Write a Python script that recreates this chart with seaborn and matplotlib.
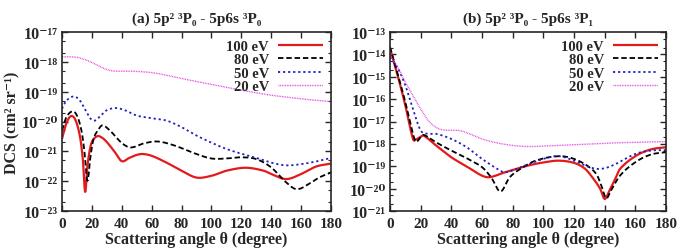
import matplotlib
matplotlib.use("Agg")
import matplotlib.pyplot as plt
import matplotlib.ticker as mticker
import numpy as np
import pandas as pd
import seaborn as sns

energies = ["100 eV", "80 eV", "50 eV", "20 eV"]
colors = ["#e31a1c", "black", "#1f1fbf", "#e040e0"]
dashes = [(1, 0), (3, 1.6), (1.2, 1.6), (0.6, 0.6)]
widths = [1.6, 1.3, 1.3, 1.0]

# panel (a): 5p2 3P0 - 5p6s 3P0, log10(DCS)
a_100_x = [0, 3, 6, 9, 12, 14, 15.5, 17, 19, 21, 24, 27, 30, 35, 40, 45, 50, 54, 60, 70, 80, 90,
           100, 110, 123, 135, 140, 150, 160, 170, 180]
a_100_y = [-20.58, -20.05, -19.82, -19.95, -20.5, -21.3, -22.36, -21.5, -20.85, -20.6, -20.49, -20.55,
           -20.69, -21.0, -21.33, -21.22, -21.12, -21.09, -21.15, -21.38, -21.65, -21.88,
           -21.82, -21.65, -21.55, -21.65, -21.76, -21.93, -21.76, -21.51, -21.41]
a_80_x = [0, 3, 7, 10, 13, 15, 17, 19, 21, 24, 27, 32, 40, 46, 55, 64, 75, 90, 100, 110, 120,
          130, 140, 150, 157, 165, 172, 180]
a_80_y = [-20.30, -19.85, -19.66, -19.8, -20.3, -21.0, -21.99, -21.2, -20.6, -20.3, -20.13, -20.3,
          -20.72, -20.87, -20.73, -20.67, -20.8, -21.09, -21.24, -21.24, -21.2, -21.26, -21.54,
          -22.04, -22.27, -22.1, -21.88, -21.71]
a_50_x = [0, 3, 8, 12, 16, 19, 22, 26, 30, 36, 42, 50, 60, 70, 80, 90, 100, 110, 120, 130, 140,
          150, 160, 170, 180]
a_50_y = [-19.57, -19.3, -19.16, -19.3, -19.65, -19.9, -19.97, -19.8, -19.62, -19.55, -19.62, -19.8,
          -19.89, -19.97, -20.19, -20.47, -20.71, -20.92, -21.08, -21.22, -21.38, -21.47, -21.43,
          -21.34, -21.22]
a_20_x = [0, 5, 10, 15, 20, 25, 30, 35, 45, 60, 70, 80, 90, 100, 110, 120, 130, 140, 150, 160,
          170, 180]
a_20_y = [-17.83, -17.83, -17.85, -17.92, -18.02, -18.15, -18.26, -18.31, -18.31, -18.36, -18.45,
          -18.56, -18.66, -18.76, -18.86, -18.95, -19.04, -19.12, -19.18, -19.24, -19.29, -19.33]

# panel (b): 5p2 3P0 - 5p6s 3P1, log10(DCS)
b_100_x = [0, 5, 10, 15, 17, 20, 22, 30, 40, 50, 60, 65, 75, 90, 100, 110, 120, 127, 132, 137,
           140, 143, 147, 150, 160, 170, 180]
b_100_y = [-13.72, -14.94, -16.28, -17.78, -17.8, -17.68, -17.63, -18.07, -18.6, -19.01, -19.42,
           -19.49, -19.27, -18.97, -18.83, -18.75, -18.85, -19.1, -19.5, -20.0, -20.46, -20.1,
           -19.55, -19.12, -18.55, -18.25, -18.15]
b_80_x = [0, 5, 10, 15, 17, 20, 22, 30, 40, 50, 60, 66, 72, 78, 85, 95, 110, 120, 130, 135, 138,
          141, 144, 150, 160, 170, 180]
b_80_y = [-13.67, -14.87, -16.14, -17.56, -17.9, -17.7, -17.6, -17.93, -18.3, -18.64, -19.04,
          -19.5, -20.13, -19.5, -19.12, -18.75, -18.55, -18.67, -19.04, -19.4, -19.9, -20.43,
          -20.1, -19.42, -18.82, -18.48, -18.37]
b_50_x = [0, 5, 10, 15, 20, 25, 30, 40, 50, 60, 70, 75, 85, 100, 110, 120, 130, 137, 145, 160,
          170, 180]
b_50_y = [-14.12, -14.6, -15.39, -16.44, -17.40, -17.55, -17.55, -17.78, -18.15, -18.67, -19.12,
          -19.27, -19.05, -18.67, -18.55, -18.75, -19.04, -19.12, -18.97, -18.45, -18.3, -18.28]
b_20_x = [0, 5, 10, 15, 20, 25, 30, 35, 45, 50, 60, 70, 80, 90, 100, 120, 140, 160, 180]
b_20_y = [-14.04, -14.57, -15.24, -15.84, -16.44, -16.96, -17.26, -17.38, -17.40, -17.5, -17.78,
          -17.96, -18.07, -18.12, -18.1, -18.04, -17.97, -17.93, -17.90]

a_decades = list(range(-23, -16))
b_decades = list(range(-21, -12))

SUP = str.maketrans("-0123456789", "\u207b\u2070\u00b9\u00b2\u00b3\u2074\u2075\u2076\u2077\u2078\u2079")


def smooth(xs, ys):
    # Catmull-Rom spline through the read points, on log scale
    xs = np.asarray(xs, float)
    ys = np.asarray(ys, float)
    xf = np.linspace(xs[0], xs[-1], 721)
    out = []
    for x in xf:
        i = min(np.searchsorted(xs, x, side="right") - 1, len(xs) - 2)
        i0, i1, i2, i3 = max(i - 1, 0), i, i + 1, min(i + 2, len(xs) - 1)
        h = xs[i2] - xs[i1]
        t = (x - xs[i1]) / h
        m1 = (ys[i2] - ys[i0]) / (xs[i2] - xs[i0]) * h
        m2 = (ys[i3] - ys[i1]) / (xs[i3] - xs[i1]) * h
        t2, t3 = t * t, t * t * t
        out.append((2 * t3 - 3 * t2 + 1) * ys[i1] + (t3 - 2 * t2 + t) * m1
                   + (-2 * t3 + 3 * t2) * ys[i2] + (t3 - t2) * m2)
    return xf, 10 ** np.array(out)


def frame(series):
    rows = []
    for label, (xs, ys) in zip(energies, series):
        xf, yf = smooth(xs, ys)
        rows.append(pd.DataFrame({"angle": xf, "dcs": yf, "energy": label}))
    return pd.concat(rows, ignore_index=True)


df_a = frame([(a_100_x, a_100_y), (a_80_x, a_80_y), (a_50_x, a_50_y), (a_20_x, a_20_y)])
df_b = frame([(b_100_x, b_100_y), (b_80_x, b_80_y), (b_50_x, b_50_y), (b_20_x, b_20_y)])

sns.set_theme(style="ticks")
plt.rcParams["font.family"] = ["Liberation Serif", "DejaVu Serif"]
plt.rcParams["font.weight"] = "bold"

fig = plt.figure(figsize=(6.85, 2.53), dpi=100)
ax1 = fig.add_axes([62 / 685, 1 - 212 / 253, 269 / 685, 179 / 253])
ax2 = fig.add_axes([390 / 685, 1 - 212 / 253, 276 / 685, 179 / 253])

pal = dict(zip(energies, colors))
dsh = dict(zip(energies, dashes))
for ax, df, decs, title in [
    (ax1, df_a, a_decades, "(a) 5p\u00b2 \u00b3P\u2080 - 5p6s \u00b3P\u2080"),
    (ax2, df_b, b_decades, "(b) 5p\u00b2 \u00b3P\u2080 - 5p6s \u00b3P\u2081"),
]:
    sns.lineplot(data=df, x="angle", y="dcs", hue="energy", style="energy",
                 palette=pal, dashes=dsh, hue_order=energies, style_order=energies,
                 ax=ax, legend=True)
    for line, w in zip(ax.get_lines(), widths):
        line.set_linewidth(w)
    ax.set_yscale("log")
    ax.set_xlim(0, 180)
    ax.set_ylim(10.0 ** decs[0], 10.0 ** decs[-1])
    ax.set_xticks(range(0, 181, 20))
    ax.set_yticks([10.0 ** k for k in decs], ["10" + str(k).translate(SUP) for k in decs])
    ax.set_yticks([m * 10.0 ** k for k in decs[:-1] for m in (2, 5)], minor=True)
    ax.yaxis.set_minor_formatter(mticker.NullFormatter())
    ax.tick_params(which="both", direction="in", top=True, right=True, labelsize=11)
    ax.tick_params(axis="y", labelsize=11.5)
    ax.tick_params(axis="x", pad=4)
    ax.tick_params(axis="y", pad=3)
    ax.tick_params(which="major", length=4, width=1)
    ax.tick_params(which="minor", length=2, width=0.8)
    for s in ax.spines.values():
        s.set_linewidth(1.2)
    ax.set_xlabel("Scattering angle \u03b8 (degree)", fontsize=11.5, fontweight="bold", labelpad=1)
    ax.set_ylabel("")
    ax.set_title(title, fontsize=11, fontweight="bold", pad=7)
    handles, labels = ax.get_legend_handles_labels()
    for h, w in zip(handles, widths):
        h.set_linewidth(w)
    ax.legend(handles, labels, loc="upper right", frameon=False, markerfirst=False,
              fontsize=10.5, handlelength=3.1, labelspacing=0.0, borderaxespad=0.15,
              handletextpad=0.6)

ax1.set_ylabel("DCS (cm\u00b2 sr\u207b\u00b9)", fontsize=11.5, fontweight="bold", labelpad=1)

fig.savefig("out.png", dpi=100)
